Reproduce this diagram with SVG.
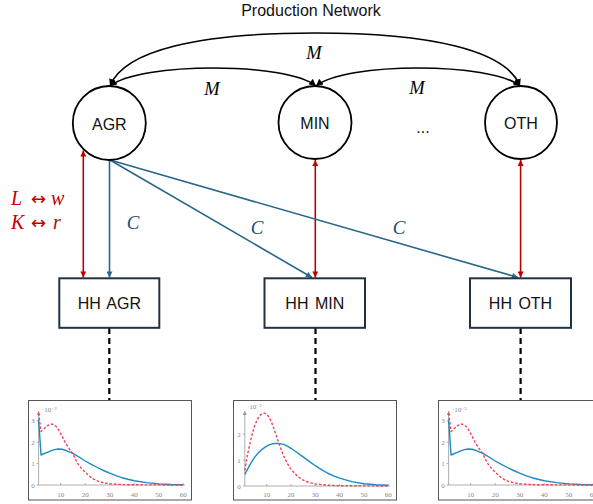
<svg xmlns="http://www.w3.org/2000/svg" xmlns:xlink="http://www.w3.org/1999/xlink" width="593" height="504" viewBox="0 0 593 504">
<style>
.node{fill:#fff;stroke:#000;stroke-width:1.8}
.box{fill:#fff;stroke:#1e3442;stroke-width:2}
.lbl{font-family:"Liberation Sans",Arial,sans-serif;font-size:16px;fill:#111;text-anchor:middle}
.math{font-family:"Liberation Serif","DejaVu Serif",serif;font-style:italic}
.arcK{fill:none;stroke:#000;stroke-width:1.6;marker-start:url(#aK);marker-end:url(#aK)}
.red{fill:none;stroke:#c00000;stroke-width:1.6;marker-start:url(#aR);marker-end:url(#aR)}
.blue{fill:none;stroke:#27678a;stroke-width:1.6;marker-end:url(#aB)}
.dash{fill:none;stroke:#000;stroke-width:2.2;stroke-dasharray:6 4}
.frame{fill:#fff;stroke:#555;stroke-width:1}
.ax{fill:none;stroke:#999;stroke-width:0.8}
.tk{font-family:"Liberation Serif","DejaVu Serif",serif;font-size:7px;fill:#888;text-anchor:middle}
.cb{fill:none;stroke:#1a8ac4;stroke-width:1.4;stroke-linejoin:round}
.cr{fill:none;stroke:#ef4358;stroke-width:1.4;stroke-dasharray:2.6 1.8;stroke-linejoin:round}
</style>
<defs>
<marker id="aK" viewBox="0 0 10 10" refX="10" refY="5" markerWidth="7" markerHeight="7" markerUnits="userSpaceOnUse" orient="auto-start-reverse"><path d="M0,0 L10,5 L0,10 z" fill="#000"/></marker>
<marker id="aR" viewBox="0 0 10 10" refX="10" refY="5" markerWidth="7" markerHeight="6" markerUnits="userSpaceOnUse" orient="auto-start-reverse"><path d="M0,0 L10,5 L0,10 z" fill="#c00000"/></marker>
<marker id="aB" viewBox="0 0 10 10" refX="10" refY="5" markerWidth="7" markerHeight="6" markerUnits="userSpaceOnUse" orient="auto-start-reverse"><path d="M0,0 L10,5 L0,10 z" fill="#27678a"/></marker>
<marker id="aG" viewBox="0 0 10 10" refX="10" refY="5" markerWidth="4" markerHeight="4" markerUnits="userSpaceOnUse" orient="auto"><path d="M0,0 L10,5 L0,10 z" fill="#999"/></marker>
<g id="plotA">
<rect class="frame" x="28.5" y="400.5" width="163" height="99.5"/>
<line class="ax" x1="38.6" y1="485" x2="38.6" y2="411" marker-end="url(#aG)"/>
<line class="ax" x1="38.6" y1="485" x2="185" y2="485"/>
<path class="ax" d="M36.6,485h2M36.6,463.6h2M36.6,442.2h2M36.6,420.8h2M60.7,485v-2M85.2,485v-2M109.7,485v-2M134.2,485v-2M158.7,485v-2M183.2,485v-2"/>
<text class="tk" x="33" y="487.5">0</text>
<text class="tk" x="33" y="466.1">1</text>
<text class="tk" x="33" y="444.7">2</text>
<text class="tk" x="33" y="423.3">3</text>
<text class="tk" x="60.7" y="496.5">10</text>
<text class="tk" x="85.2" y="496.5">20</text>
<text class="tk" x="109.7" y="496.5">30</text>
<text class="tk" x="134.2" y="496.5">40</text>
<text class="tk" x="158.7" y="496.5">50</text>
<text class="tk" x="183.2" y="496.5">60</text>
<text class="tk" x="42" y="412" style="text-anchor:start">·10<tspan dy="-2.5" font-size="5">−2</tspan></text>
<polyline class="cb" points="38.6,419.7 41.05,455 45.96,452.9 50.86,450.8 54.5,449.6 58.2,449 61.9,449.3 65.6,450.3 72.9,453.3 79,457 85.2,461 91.3,464.4 97.4,467.5 103.5,470.5 109.7,473.2 115.9,475.6 122,477.7 128,479.3 134.2,480.7 146.5,482.6 158.7,483.9 171,484.5 183.3,484.8"/>
<polyline class="cr" points="38.6,413.3 41.05,431.5 43.5,429.4 46,427 48.4,425.1 52.1,424 55.8,426.1 58.3,429.4 60.7,433.6 63.2,438.4 65.6,443.3 69.3,448.8 72.9,454 75.3,459 77.8,463.6 81.5,468.4 85.2,472.2 88.8,475.6 92.5,478.6 96.2,480.5 99.9,481.8 104.8,482.9 109.7,483.7 122,484.6 134.2,484.8 183.3,485"/>
</g>
</defs>

<text id="title" x="311" y="15.5" class="lbl" style="font-size:16px">Production Network</text>

<g id="connectors">
<path class="arcK" d="M110,86 C124,50 200,33 315,33 C430,33 506,50 520,86"/>
<path class="arcK" d="M110,86 C140,62 287,62 316,86"/>
<path class="arcK" d="M316,86 C345,62 491,62 520,86"/>
<text class="math" x="314" y="58.5" font-size="18.5" text-anchor="middle">M</text>
<text class="math" x="212" y="94.5" font-size="18.5" text-anchor="middle">M</text>
<text class="math" x="417" y="93.5" font-size="18.5" text-anchor="middle">M</text>
<line class="red" x1="83.3" y1="150.5" x2="83.3" y2="277.5"/>
<line class="red" x1="315.3" y1="160" x2="315.3" y2="277.5"/>
<line class="red" x1="520.6" y1="160" x2="520.6" y2="277.5"/>
<line class="blue" x1="109.5" y1="160" x2="109.5" y2="277.5"/>
<line class="blue" x1="110" y1="160" x2="312" y2="277.5"/>
<line class="blue" x1="110" y1="160" x2="518" y2="277.5"/>
<text class="math" x="133" y="228.5" font-size="19" fill="#1f4e6e" text-anchor="middle">C</text>
<text class="math" x="257" y="233.5" font-size="19" fill="#1f4e6e" text-anchor="middle">C</text>
<text class="math" x="399" y="233.5" font-size="19" fill="#1f4e6e" text-anchor="middle">C</text>
<text font-family="Liberation Serif, DejaVu Serif, serif" font-size="20" fill="#c00000" y="204.5"><tspan x="11" font-style="italic">L</tspan><tspan x="31" font-family="DejaVu Sans, sans-serif" font-size="18">↔</tspan><tspan x="51" font-style="italic">w</tspan></text>
<text font-family="Liberation Serif, DejaVu Serif, serif" font-size="20" fill="#c00000" y="228.5"><tspan x="11" font-style="italic">K</tspan><tspan x="31" font-family="DejaVu Sans, sans-serif" font-size="18">↔</tspan><tspan x="53" font-style="italic">r</tspan></text>
<line class="dash" x1="109.3" y1="328" x2="109.3" y2="401"/>
<line class="dash" x1="315.5" y1="328" x2="315.5" y2="401"/>
<line class="dash" x1="520.6" y1="328" x2="520.6" y2="401"/>
</g>

<g id="agr"><ellipse class="node" cx="109.3" cy="123" rx="36.5" ry="37"/><text class="lbl" x="109.3" y="129.5">AGR</text></g>
<g id="min"><ellipse class="node" cx="315" cy="122.5" rx="36.5" ry="36.5"/><text class="lbl" x="315" y="129">MIN</text></g>
<g id="dots"><text class="lbl" x="423" y="133">...</text></g>
<g id="oth"><ellipse class="node" cx="521" cy="122.5" rx="36" ry="36.5"/><text class="lbl" x="521" y="129">OTH</text></g>

<g id="hh-agr"><rect class="box" x="59.3" y="278.3" width="100" height="49.5"/><text class="lbl" x="109.3" y="309" word-spacing="2">HH AGR</text></g>
<g id="hh-min"><rect class="box" x="264.5" y="278.3" width="100.5" height="49.5"/><text class="lbl" x="314.8" y="309" word-spacing="2">HH MIN</text></g>
<g id="hh-oth"><rect class="box" x="470" y="278.3" width="101" height="49.5"/><text class="lbl" x="520.5" y="309" word-spacing="2">HH OTH</text></g>

<g id="plot-agr"><use xlink:href="#plotA"/></g>
<g id="plot-min">
<rect class="frame" x="233.5" y="400.5" width="163" height="99.5"/>
<line class="ax" x1="244.8" y1="486" x2="244.8" y2="411" marker-end="url(#aG)"/>
<line class="ax" x1="244.8" y1="486" x2="390" y2="486"/>
<path class="ax" d="M242.8,486h2M242.8,460h2M242.8,434h2M266.7,486v-2M291,486v-2M315.3,486v-2M339.6,486v-2M363.9,486v-2M388.2,486v-2"/>
<text class="tk" x="239" y="488.5">0</text>
<text class="tk" x="239" y="462.5">1</text>
<text class="tk" x="239" y="436.5">2</text>
<text class="tk" x="266.7" y="497">10</text>
<text class="tk" x="291" y="497">20</text>
<text class="tk" x="315.3" y="497">30</text>
<text class="tk" x="339.6" y="497">40</text>
<text class="tk" x="363.9" y="497">50</text>
<text class="tk" x="388.2" y="497">60</text>
<text class="tk" x="247" y="409" style="text-anchor:start">·10<tspan dy="-2.5" font-size="5">−2</tspan></text>
<polyline class="cb" points="244.8,474.3 249.7,465.2 254.5,457.4 258.2,453 261.8,449.6 265.5,446.9 269.1,444.9 272.8,443.7 276.4,443.4 280,443.6 283.7,444.4 287.4,446.1 291,448.3 297,452.5 303.1,456.9 309.2,461.4 315.3,465.7 321.4,469.6 327.4,473 333.5,475.9 339.6,478.2 351.7,481.6 363.9,483.7 376,484.7 388.2,485.2"/>
<polyline class="cr" points="244.8,470.4 247.2,456 249.7,444.4 252.1,434.5 254.5,426.2 257,420.3 259.4,415.8 261.8,413.8 264.2,413.2 266.7,414.4 269.1,417.1 271.5,422.2 274,428.8 276.4,436 278.8,443.1 281.3,449.8 283.7,456.1 287.4,463.5 291,469.1 294.7,473.5 298.3,476.9 302,479.4 305.6,481.3 310.5,482.9 315.3,483.9 327.4,485.2 339.6,485.7 388.2,486"/>
</g>
<g id="plot-oth"><use xlink:href="#plotA" x="410"/></g>
</svg>
